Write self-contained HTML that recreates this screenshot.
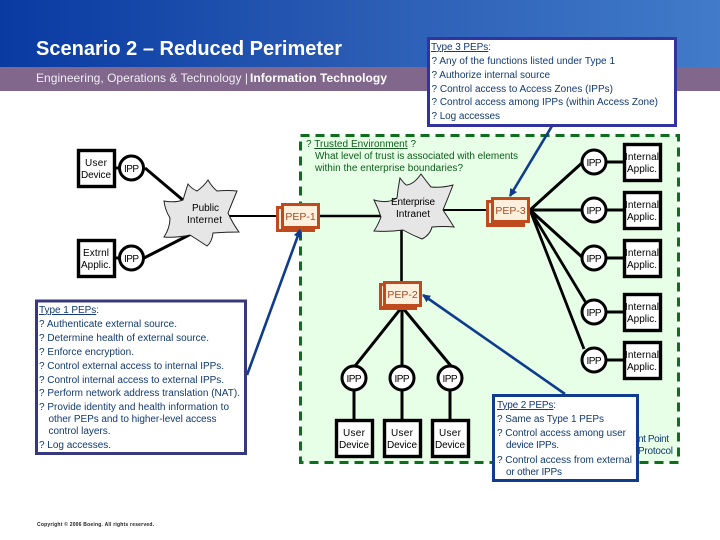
<!DOCTYPE html>
<html><head><meta charset="utf-8"><style>
html,body{margin:0;padding:0;background:#fff}
svg{display:block}
text{font-family:"Liberation Sans",sans-serif;font-size:10px}
.n{fill:#000;text-anchor:middle}
.b{fill:#123a70}
.g{fill:#0d5c1a}
.p{fill:#a04a22;font-size:10.5px;text-anchor:middle}
</style></head><body>
<svg width="720" height="540" viewBox="0 0 720 540" xmlns="http://www.w3.org/2000/svg">
<defs>
<linearGradient id="h" x1="0" x2="1" y1="0" y2="0"><stop offset="0" stop-color="#083aa2"/><stop offset="0.5" stop-color="#2a5cb4"/><stop offset="1" stop-color="#417bc9"/></linearGradient>
<marker id="a" markerWidth="9" markerHeight="9" refX="7" refY="4" orient="auto" markerUnits="userSpaceOnUse"><path d="M0 0L8 4L0 8Z" fill="#0f3c8c"/></marker>
</defs>
<rect width="720" height="68" fill="url(#h)"/>
<rect y="67" width="720" height="24" fill="#82678c"/>
<text x="36" y="55" fill="#fff" font-weight="bold" style="font-size:20px" textLength="306" lengthAdjust="spacing">Scenario 2 – Reduced Perimeter</text>
<text x="36" y="82" fill="#f0eef4" style="font-size:12px" textLength="212">Engineering, Operations &amp; Technology |</text>
<text x="250" y="82" fill="#fff" font-weight="bold" style="font-size:12px" textLength="137">Information Technology</text>

<rect x="300.5" y="135.5" width="378" height="327" fill="#e6ffe6" stroke="#0e6e1e" stroke-width="3" stroke-dasharray="9 6"/>

<g stroke="#000" fill="none">
<path d="M145 168L184 201M144 258L191 234" stroke-width="3"/>
<path d="M228 216H278" stroke-width="2"/>
<path d="M320 216H382" stroke-width="2.4"/>
<path d="M443 210H490" stroke-width="2"/>
<path d="M401.5 229V282" stroke-width="2.6"/>
<path d="M530 210L583 162M530 210H582M530 210L583 258" stroke-width="3"/>
<path d="M530 210L586 303M530 210L584 349" stroke-width="2.8"/>
<path d="M402 307L355 366M402 307V366M402 307L451 366" stroke-width="3"/>
<path d="M354 390V420M402 390V420M450 390V420" stroke-width="3"/>
<path d="M115 168H120M115 258H120M606 162H623M606 210H623M606 258H623M606 312H623M606 360H623" stroke-width="3"/>
</g>

<path d="M164 201Q175 203 183 200Q186 190 188 184Q192 189 197 191Q204 186 208 180Q212 187 217 191Q228 190 237 191Q232 203 228 213Q233 224 239 232Q226 232 213 233Q212 242 207 246Q198 240 190 235Q176 238 164 237Q170 228 170 218Q165 210 164 201Z" fill="#e6e6e6" stroke="#222" stroke-width="1"/>
<path d="M374 200Q388 204 397 198Q398 188 400 178Q406 186 407 185Q414 184 421 174Q426 181 431 187Q442 188 453 185Q448 198 443 210Q449 219 454 227Q444 226 432 227Q430 235 422 239Q412 235 403 230Q389 232 374 231Q378 225 381 217Q378 208 374 200Z" fill="#e6e6e6" stroke="#222" stroke-width="1"/>

<g fill="#fff" stroke="#000" stroke-width="3.4">
<rect x="78.5" y="150.5" width="36" height="36"/>
<rect x="78.5" y="240.5" width="36" height="36"/>
<rect x="624.5" y="144.5" width="36" height="36"/>
<rect x="624.5" y="192.5" width="36" height="36"/>
<rect x="624.5" y="240.5" width="36" height="36"/>
<rect x="624.5" y="294.5" width="36" height="36"/>
<rect x="624.5" y="342.5" width="36" height="36"/>
<rect x="336.5" y="420.5" width="36" height="36"/>
<rect x="384.5" y="420.5" width="36" height="36"/>
<rect x="432.5" y="420.5" width="36" height="36"/>
<g stroke-width="3">
<circle cx="131.5" cy="168" r="12"/><circle cx="131.5" cy="258" r="12"/>
<circle cx="594" cy="162" r="12"/><circle cx="594" cy="210" r="12"/><circle cx="594" cy="258" r="12"/><circle cx="594" cy="312" r="12"/><circle cx="594" cy="360" r="12"/>
<circle cx="354" cy="378" r="12"/><circle cx="402" cy="378" r="12"/><circle cx="450" cy="378" r="12"/>
</g>
</g>

<g class="n">
<text class="n" x="96" y="166" textLength="22">User</text><text class="n" x="96" y="178" textLength="30">Device</text>
<text class="n" x="96" y="256" textLength="26">Extrnl</text><text class="n" x="96" y="268" textLength="30">Applic.</text>
<text class="n" x="131.5" y="172" textLength="15">IPP</text><text class="n" x="131.5" y="262" textLength="15">IPP</text>
<text class="n" x="594" y="166" textLength="15">IPP</text><text class="n" x="594" y="214" textLength="15">IPP</text><text class="n" x="594" y="262" textLength="15">IPP</text><text class="n" x="594" y="316" textLength="15">IPP</text><text class="n" x="594" y="364" textLength="15">IPP</text>
<text class="n" x="354" y="382" textLength="15">IPP</text><text class="n" x="402" y="382" textLength="15">IPP</text><text class="n" x="450" y="382" textLength="15">IPP</text>
<text class="n" x="642" y="160" textLength="34">Internal</text><text class="n" x="642" y="172" textLength="30">Applic.</text>
<text class="n" x="642" y="208" textLength="34">Internal</text><text class="n" x="642" y="220" textLength="30">Applic.</text>
<text class="n" x="642" y="256" textLength="34">Internal</text><text class="n" x="642" y="268" textLength="30">Applic.</text>
<text class="n" x="642" y="310" textLength="34">Internal</text><text class="n" x="642" y="322" textLength="30">Applic.</text>
<text class="n" x="642" y="358" textLength="34">Internal</text><text class="n" x="642" y="370" textLength="30">Applic.</text>
<text class="n" x="354" y="436" textLength="22">User</text><text class="n" x="354" y="448" textLength="30">Device</text>
<text class="n" x="402" y="436" textLength="22">User</text><text class="n" x="402" y="448" textLength="30">Device</text>
<text class="n" x="450" y="436" textLength="22">User</text><text class="n" x="450" y="448" textLength="30">Device</text>
<text class="n" x="205.5" y="211" textLength="27">Public</text><text class="n" x="204.5" y="223" textLength="35">Internet</text>
<text class="n" x="413" y="205" textLength="44">Enterprise</text><text class="n" x="413" y="217" textLength="34">Intranet</text>
</g>

<g fill="#bf4a1e">
<rect x="276" y="206" width="39" height="26"/><rect x="281" y="203" width="39" height="26"/>
<rect x="486" y="200" width="39" height="27"/><rect x="491" y="197" width="39" height="26"/>
<rect x="379" y="283" width="38" height="27"/><rect x="383" y="281" width="39" height="26"/>
</g>
<g fill="#fff0de">
<rect x="279" y="209" width="2" height="20"/><rect x="284" y="206" width="33" height="20"/>
<rect x="489" y="203" width="2" height="20"/><rect x="494" y="200" width="33" height="20"/>
<rect x="382" y="286" width="1" height="20"/><rect x="386" y="284" width="33" height="20"/>
</g>
<text class="p" x="300.5" y="220">PEP-1</text>
<text class="p" x="510.5" y="214">PEP-3</text>
<text class="p" x="402.5" y="298">PEP-2</text>

<text class="g" x="306" y="147" textLength="110">? <tspan text-decoration="underline">Trusted Environment</tspan> ?</text>
<text class="g" x="315" y="159" textLength="203">What level of trust is associated with elements</text>
<text class="g" x="315" y="171" textLength="148">within the enterprise boundaries?</text>

<text x="638" y="442" textLength="31" fill="#123a70">nt Point</text>
<text x="638" y="454" textLength="35" fill="#123a70">Protocol</text>

<g stroke="#0f3c8c" stroke-width="2.6" fill="none" marker-end="url(#a)">
<path d="M552 126L510 196" marker-end="url(#a)"/>
<path d="M247 375L300 230" marker-end="url(#a)"/>
<path d="M565 394L423 295" marker-end="url(#a)"/>
</g>

<rect x="428.5" y="38.5" width="247" height="87" fill="#fff" stroke="#3333a0" stroke-width="3"/>
<text class="b" x="431" y="50" textLength="60"><tspan text-decoration="underline">Type 3 PEPs</tspan>:</text>
<text class="b" x="431.5" y="64" textLength="183.5">? Any of the functions listed under Type 1</text>
<text class="b" x="431.5" y="78" textLength="118.5">? Authorize internal source</text>
<text class="b" x="431.5" y="92" textLength="181.5">? Control access to Access Zones (IPPs)</text>
<text class="b" x="431.5" y="105" textLength="226.5">? Control access among IPPs (within Access Zone)</text>
<text class="b" x="431.5" y="119" textLength="68.5">? Log accesses</text>

<rect x="36.5" y="301" width="209" height="152.5" fill="#fff" stroke="#38387f" stroke-width="3"/>
<text class="b" x="39" y="313" textLength="60"><tspan text-decoration="underline">Type 1 PEPs</tspan>:</text>
<text class="b" x="39" y="327" textLength="138">? Authenticate external source.</text>
<text class="b" x="39" y="341" textLength="170">? Determine health of external source.</text>
<text class="b" x="39" y="355" textLength="95">? Enforce encryption.</text>
<text class="b" x="39" y="369" textLength="185">? Control external access to internal IPPs.</text>
<text class="b" x="39" y="383" textLength="185">? Control internal access to external IPPs.</text>
<text class="b" x="39" y="396" textLength="201">? Perform network address translation (NAT).</text>
<text class="b" x="39" y="410" textLength="190">? Provide identity and health information to</text>
<text class="b" x="48.5" y="422" textLength="168">other PEPs and to higher-level access</text>
<text class="b" x="48.5" y="434" textLength="62">control layers.</text>
<text class="b" x="39" y="448" textLength="72">? Log accesses.</text>

<rect x="493.5" y="395.5" width="144" height="85" fill="#fff" stroke="#0f3c8c" stroke-width="3"/>
<text class="b" x="497" y="408" textLength="59"><tspan text-decoration="underline">Type 2 PEPs</tspan>:</text>
<text class="b" x="497" y="422" textLength="107">? Same as Type 1 PEPs</text>
<text class="b" x="497" y="436" textLength="129">? Control access among user</text>
<text class="b" x="506" y="448" textLength="53">device IPPs.</text>
<text class="b" x="497" y="463" textLength="135">? Control access from external</text>
<text class="b" x="506" y="475" textLength="56">or other IPPs</text>

<text x="37" y="526" fill="#222" style="font-size:5px" font-weight="bold" textLength="117">Copyright © 2006 Boeing. All rights reserved.</text>
</svg>
</body></html>
